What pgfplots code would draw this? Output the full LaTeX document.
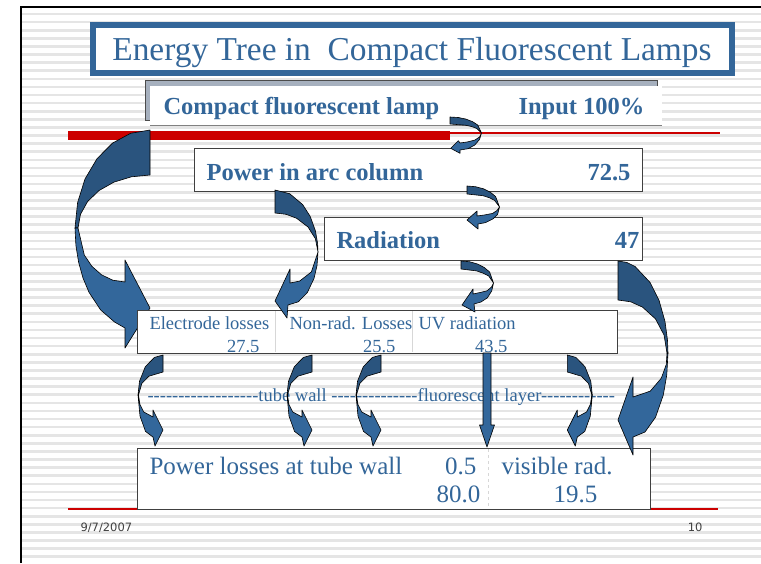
\documentclass[border=0pt]{standalone}
\usepackage{fontspec}
\setmainfont{Liberation Serif}
\newfontfamily\footfont{DejaVu Sans}
\usepackage{pgfplots}
\pgfplotsset{compat=1.18}
\definecolor{tblue}{RGB}{51,102,153}
\definecolor{adark}{RGB}{42,84,126}
\definecolor{alight}{RGB}{51,103,155}
\definecolor{sred}{RGB}{204,0,0}
\definecolor{stripe}{RGB}{229,229,229}
\definecolor{shadow}{RGB}{166,176,190}
\definecolor{bord}{RGB}{64,64,64}
\definecolor{divg}{RGB}{215,215,215}
\newcommand\dashes[1]{\foreach \i in {1,...,#1}{-\kern0pt}}
\tikzset{
 ar/.style={draw=black, line width=0.6pt, line join=round},
 dk/.style={ar, fill=adark},
 lt/.style={ar, fill=alight},
 bx/.style={draw=bord, line width=1pt, fill=white},
}
\begin{document}
\begin{tikzpicture}
\begin{axis}[
 scale only axis, width=761pt, height=563pt,
 xmin=0, xmax=761, ymin=0, ymax=563, y dir=reverse,
 axis line style={draw=none}, xtick=\empty,
 ytick={5.9,14,...,563}, yticklabels={}, major tick length=0pt,
 ymajorgrids, grid style={stripe, line width=2.6pt},
 clip=false,
 every node/.append style={inner sep=0pt, outer sep=0pt},
]
% white margins and black frame
\addplot[fill=white, draw=none] coordinates {(0,0)(20,0)(20,563)(0,563)} -- cycle;
\addplot[fill=white, draw=none] coordinates {(0,0)(761,0)(761,6)(0,6)} -- cycle;
\addplot[black, line width=2pt] coordinates {(21,563)(21,7)(761,7)};
% red lines
\addplot[fill=sred, draw=none] coordinates {(68,131)(450,131)(450,140)(68,140)} -- cycle;
\addplot[sred, line width=1.2pt] coordinates {(450,133)(720,133)};
\addplot[sred, line width=1.5pt] coordinates {(68,509)(718,509)};
% title
\addplot[draw=tblue, line width=6pt, fill=white] coordinates {(93,25)(732,25)(732,73)(93,73)} -- cycle;
\node[anchor=base, text=tblue, font=\fontsize{33.4}{40}\selectfont] at (axis cs:412,60) {Energy Tree in~~Compact Fluorescent Lamps};
% compact fluorescent lamp box
\addplot[fill=shadow, draw=gray!60!black, line width=0.8pt] coordinates {(145,80)(657,80)(657,120)(145,120)} -- cycle;
\addplot[fill=white, draw=none] coordinates {(150,86)(662,86)(662,125)(150,125)} -- cycle;
\addplot[gray, line width=0.8pt] coordinates {(150,125)(662,125)};
\node[anchor=base west, text=tblue, font=\fontsize{24.5}{29}\selectfont\bfseries] at (axis cs:160,114) {Compact fluorescent lamp};
\node[anchor=base east, text=tblue, font=\fontsize{24.5}{29}\selectfont\bfseries] at (axis cs:648,114) {Input 100\%};
% power in arc column
\addplot[bx] coordinates {(194,148)(642,148)(642,191)(194,191)} -- cycle;
\node[anchor=base west, text=tblue, font=\fontsize{24.5}{29}\selectfont\bfseries] at (axis cs:203,180) {Power in arc column};
\node[anchor=base east, text=tblue, font=\fontsize{24.5}{29}\selectfont\bfseries] at (axis cs:634,180) {72.5};
% radiation
\addplot[bx] coordinates {(324,217)(642,217)(642,260)(324,260)} -- cycle;
\node[anchor=base west, text=tblue, font=\fontsize{24.5}{29}\selectfont\bfseries] at (axis cs:333,248) {Radiation};
\node[anchor=base east, text=tblue, font=\fontsize{24.5}{29}\selectfont\bfseries] at (axis cs:643,248) {47};
% big left arrow (drawn below the middle box)
\addplot[dk] coordinates {(150,130)(130.6,133.3)(112.5,143.1)(97,158.7)(85,179)(77.6,202.6)(75,228)(78,228)(80.5,214.3)(87.6,201.5)(99.1,190.5)(114,182.1)(131.4,176.8)(150,175)} -- cycle;
\addplot[lt] coordinates {(75,228)(75.9,245.4)(78.6,262.2)(83,278)(89,292.3)(100.6,309.9)(114.5,322)(125,328)(125,348)(150,308)(125,260)(125,282)(112.8,280.2)(101.5,274.8)(91.8,266.2)(84.3,255)(78,228)} -- cycle;
% middle box
\addplot[bx] coordinates {(137,310)(617,310)(617,353)(137,353)} -- cycle;
\addplot[divg, line width=1pt] coordinates {(275,311)(275,352)};
\addplot[divg, line width=1pt] coordinates {(412,311)(412,352)};
\node[anchor=base west, text=tblue, font=\fontsize{18.5}{22}\selectfont] at (axis cs:146,329) {Electrode losses};
\node[anchor=base east, text=tblue, font=\fontsize{18.5}{22}\selectfont] at (axis cs:263,352) {27.5};
\node[anchor=base west, text=tblue, font=\fontsize{18.5}{22}\selectfont] at (axis cs:286,329) {Non-rad. Losses};
\node[anchor=base east, text=tblue, font=\fontsize{18.5}{22}\selectfont] at (axis cs:399,352) {25.5};
\node[anchor=base west, text=tblue, font=\fontsize{18.5}{22}\selectfont] at (axis cs:415,329) {UV radiation};
\node[anchor=base east, text=tblue, font=\fontsize{18.5}{22}\selectfont] at (axis cs:511,352) {43.5};
% dashed text line
\node[anchor=base west, text=tblue, font=\fontsize{18.5}{22}\selectfont] at (axis cs:144,401) {\dashes{18}tube wall \dashes{14}fluorescent layer\dashes{12}};
% bottom box
\addplot[bx] coordinates {(137,448)(650,448)(650,509)(137,509)} -- cycle;
\addplot[divg, line width=1pt, dashed] coordinates {(488,449)(488,508)};
\node[anchor=base west, text=tblue, font=\fontsize{25}{30}\selectfont] at (axis cs:146,474) {Power losses at tube wall};
\node[anchor=base east, text=tblue, font=\fontsize{25}{30}\selectfont] at (axis cs:480,474) {0.5};
\node[anchor=base east, text=tblue, font=\fontsize{25}{30}\selectfont] at (axis cs:484,502) {80.0};
\node[anchor=base west, text=tblue, font=\fontsize{25}{30}\selectfont] at (axis cs:498,474) {visible rad.};
\node[anchor=base east, text=tblue, font=\fontsize{25}{30}\selectfont] at (axis cs:601,502) {19.5};
% footer
\node[anchor=base west, text=black!75, font=\footfont\fontsize{11.5}{14}\selectfont] at (axis cs:77,531) {9/7/2007};
\node[anchor=base east, text=black!75, font=\footfont\fontsize{11.5}{14}\selectfont] at (axis cs:706,531) {10};
% arrow: input -> power in arc
\addplot[dk] coordinates {(450,117)(458.3,117.5)(466,119.1)(472.6,121.7)(477.7,125)(481.5,133)(476.8,128.5)(471.9,126.6)(465.5,125.2)(450,124)} -- cycle;
\addplot[lt] coordinates {(481.5,133)(479.5,139.5)(474.8,145)(468,148.7)(460,150)(460,153.3)(450.7,148.3)(458.3,140.7)(460,143)(467,142)(474.8,140.1)(479.5,137)} -- cycle;
% arrow: power -> radiation
\addplot[dk] coordinates {(467,186)(475.5,186.7)(483.5,188.8)(490.3,192.2)(495.6,196.5)(499.5,207)(494.7,200.5)(489.6,197.8)(483,195.7)(467,194)} -- cycle;
\addplot[lt] coordinates {(499.5,207)(497.6,214.5)(492.8,219)(485.6,222.6)(478,224)(478,229)(467,220)(477,211)(477,216)(484.3,215)(492.6,213.4)(497,210.5)} -- cycle;
% arrow: radiation -> UV
\addplot[dk] coordinates {(461,261)(469.5,261.7)(477.5,264)(484.3,267.5)(489.6,272)(493.5,283)(488.7,276)(482.9,273.1)(476.5,270.9)(461,269)} -- cycle;
\addplot[lt] coordinates {(493.5,283)(491.7,291)(487.4,297.8)(481,302)(474,304)(475,312)(462,305)(473,289)(473,294)(480,292.5)(487.1,290.8)(491.5,287)} -- cycle;
% arrow: power -> non-rad losses
\addplot[dk] coordinates {(275,190)(289.7,193.7)(302.6,204.5)(310.2,216.4)(315.4,230.8)(317.6,243.4)(318,252)(315.4,238.7)(308,227)(296.5,218.2)(286.1,214.3)(275,213)} -- cycle;
\addplot[lt] coordinates {(318,252)(317,265.7)(314,278.5)(307.3,292.6)(298.3,301.8)(288,305)(287,318)(275,301)(290,269)(290,283)(299.6,281.1)(311.4,271.9)} -- cycle;
% arrow: radiation -> visible (big right)
\addplot[dk] coordinates {(618,261)(626.7,262.4)(635.1,266.5)(650.1,282.5)(659,300.2)(665,321.5)(667.5,340.2)(668,353)(667,353)(664,334.9)(655.5,318.9)(642.5,307.1)(630.7,301.8)(618,300)} -- cycle;
\addplot[lt] coordinates {(668,353)(666.8,374.7)(663.3,395)(655.5,417.3)(645,432)(633,437)(633,455)(618,420)(633,377)(633,397)(650.3,391.1)(661.3,378.2)(666.3,364.4)(667,353)} -- cycle;
% bottom arrows
\addplot[dk] coordinates {(163,355)(154.4,357.4)(145.3,366.7)(139.5,381.3)(138,395)(138.5,395)(141.8,383.5)(148.9,376.2)(163,372)} -- cycle;
\addplot[lt] coordinates {(138,395)(140,416)(145.5,431.4)(153,437)(155,446)(163,430)(153,410)(153,417)(143.7,411.9)(139.9,404.3)(138.5,395)} -- cycle;
\addplot[dk] coordinates {(312,355)(303.4,357.4)(294.3,366.7)(288.5,381.3)(287,395)(287.5,395)(290.8,383.5)(297.9,376.2)(312,372)} -- cycle;
\addplot[lt] coordinates {(287,395)(289,416)(294.5,431.4)(302,437)(304,446)(312,430)(302,410)(302,417)(292.7,411.9)(288.9,404.3)(287.5,395)} -- cycle;
\addplot[dk] coordinates {(381,355)(372.4,357.4)(363.3,366.7)(357.5,381.3)(356,395)(356.5,395)(359.8,383.5)(366.9,376.2)(381,372)} -- cycle;
\addplot[lt] coordinates {(356,395)(358,416)(363.5,431.4)(371,437)(373,446)(381,430)(371,410)(371,417)(361.7,411.9)(357.9,404.3)(356.5,395)} -- cycle;
\addplot[dk] coordinates {(567.3,355)(575.9,357.4)(585,366.7)(590.8,381.3)(592.3,395)(591.8,395)(588.5,383.5)(581.4,376.2)(567.3,372)} -- cycle;
\addplot[lt] coordinates {(592.3,395)(590.3,416)(584.8,431.4)(577.3,437)(575.3,446)(567.3,430)(577.3,410)(577.3,417)(586.6,411.9)(590.4,404.3)(591.8,395)} -- cycle;
% straight UV arrow
\addplot[lt] coordinates {(483,353)(491,353)(491,425)(494.5,425)(487,447)(479.5,425)(483,425)} -- cycle;
\end{axis}
\pgfresetboundingbox
\path[use as bounding box] (current axis.south west) rectangle (current axis.north east);
\end{tikzpicture}
\end{document}
